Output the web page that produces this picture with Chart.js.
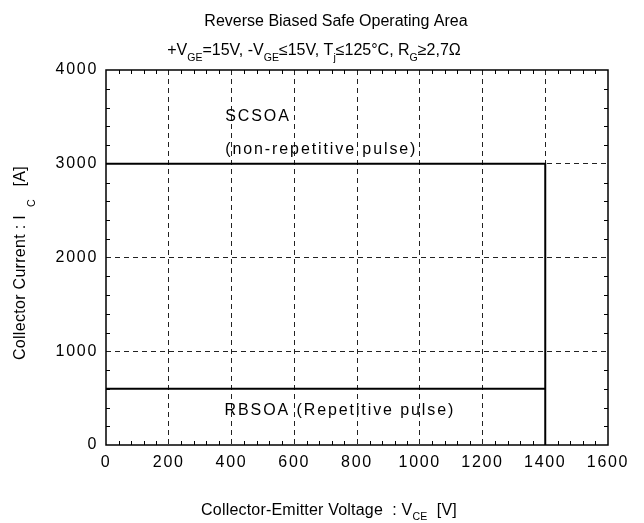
<!DOCTYPE html>
<html>
<head>
<meta charset="utf-8">
<script src="https://cdn.jsdelivr.net/npm/chart.js@4.4.0/dist/chart.umd.min.js"></script>
<style>
  html, body { margin: 0; padding: 0; background: #fff; }
</style>
</head>
<body>
<canvas id="grafico" width="644" height="523"></canvas>
<script>
// eixos
const vceTicks = [0, 200, 400, 600, 800, 1000, 1200, 1400, 1600];
const icTicks = [0, 1000, 2000, 3000, 4000];
const passoMenorV = 40;
const passoMenorI = 200;

// SCSOA (non-repetitive) e RBSOA (repetitive)
const scsoaV = [0, 1400, 1400];
const scsoaI = [3000, 3000, 0];
const rbsoaV = [0, 1400];
const rbsoaI = [600, 600];

// textos dentro do grafico (posicao em valores dos eixos)
const rotulos = ['SCSOA', '(non-repetitive pulse)', 'RBSOA (Repetitive pulse)'];
const rotuloV = [380, 380, 378];
const rotuloI = [3500, 3150, 370];

const FONTE = '"Liberation Sans", Arial, sans-serif';

function pontos(xs, ys) {
    return xs.map((x, i) => ({ x, y: ys[i] }));
}

// escreve texto com subscritos: partes = [[texto, ehSub], ...]
function textoRico(ctx, partes, x, y, tam, esp, desc) {
    ctx.save();
    ctx.letterSpacing = esp + 'px';
    ctx.textBaseline = 'alphabetic';
    ctx.textAlign = 'left';
    ctx.fillStyle = '#000';
    let larg = 0;
    const medidas = partes.map(p => {
        ctx.font = (p[1] ? tam * 0.66 : tam) + 'px ' + FONTE;
        const w = ctx.measureText(p[0]).width;
        larg += w;
        return w;
    });
    let cx = x - larg / 2;
    partes.forEach((p, i) => {
        ctx.font = (p[1] ? tam * 0.66 : tam) + 'px ' + FONTE;
        ctx.fillText(p[0], cx, p[1] ? y + desc : y);
        cx += medidas[i];
    });
    ctx.restore();
}

const molduraPlugin = {
    id: 'moldura',
    beforeDraw(chart) {
        chart.ctx.letterSpacing = '1.7px';
    },
    afterDatasetsDraw(chart) {
        const { ctx, chartArea: a, scales } = chart;
        const sx = scales.x, sy = scales.y;
        ctx.save();
        ctx.letterSpacing = '0px';
        ctx.strokeStyle = '#000';
        ctx.lineWidth = 1.5;
        ctx.strokeRect(a.left, a.top, a.right - a.left, a.bottom - a.top);

        // tracinhos menores nos quatro lados
        ctx.lineWidth = 1;
        ctx.beginPath();
        for (let v = sx.min; v <= sx.max; v += passoMenorV) {
            if (vceTicks.includes(v)) continue;
            const px = Math.round(sx.getPixelForValue(v)) + 0.5;
            ctx.moveTo(px, a.bottom); ctx.lineTo(px, a.bottom - 4);
            ctx.moveTo(px, a.top); ctx.lineTo(px, a.top + 4);
        }
        for (let v = sy.min; v <= sy.max; v += passoMenorI) {
            if (icTicks.includes(v)) continue;
            const py = Math.round(sy.getPixelForValue(v)) + 0.5;
            ctx.moveTo(a.left, py); ctx.lineTo(a.left + 4, py);
            ctx.moveTo(a.right, py); ctx.lineTo(a.right - 4, py);
        }
        ctx.stroke();
        ctx.restore();

        // rotulos das regioes
        ctx.save();
        ctx.fillStyle = '#000';
        ctx.font = '16px ' + FONTE;
        ctx.letterSpacing = '1.9px';
        ctx.textBaseline = 'middle';
        ctx.textAlign = 'left';
        rotulos.forEach((t, i) => {
            ctx.fillText(t, sx.getPixelForValue(rotuloV[i]), sy.getPixelForValue(rotuloI[i]));
        });
        ctx.restore();
    },
    afterDraw(chart) {
        const ctx = chart.ctx;
        textoRico(ctx, [['Reverse Biased Safe Operating Area', false]], 336, 26, 16, 0, 6);
        textoRico(ctx, [
            ['+V', false], ['GE', true], ['=15V, -V', false], ['GE', true],
            ['\u226415V, T', false], ['j', true], ['\u2264125\u00b0C, R', false], ['G', true],
            ['\u22652,7\u03a9', false]
        ], 314, 55, 16, 0, 6);
        textoRico(ctx, [
            ['Collector-Emitter Voltage  : V', false], ['CE', true], ['  [V]', false]
        ], 329, 515, 16, 0.2, 5);
        ctx.save();
        ctx.translate(25, 263);
        ctx.rotate(-Math.PI / 2);
        textoRico(ctx, [
            ['Collector Current : I ', false], [' C ', true], ['  [A]', false]
        ], 0, 0, 16, 0.3, 10);
        ctx.restore();
    }
};

const linhaCor = limites => c =>
    (c.tick && limites.includes(c.tick.value)) ? 'rgba(0,0,0,0)' : '#222';

new Chart(document.getElementById('grafico'), {
    type: 'scatter',
    data: {
        datasets: [
            {
                label: 'SCSOA',
                data: pontos(scsoaV, scsoaI),
                showLine: true,
                borderColor: '#000',
                borderWidth: 2,
                pointRadius: 0,
                tension: 0,
                clip: false
            },
            {
                label: 'RBSOA',
                data: pontos(rbsoaV, rbsoaI),
                showLine: true,
                borderColor: '#000',
                borderWidth: 2,
                pointRadius: 0,
                tension: 0,
                clip: false
            }
        ]
    },
    options: {
        responsive: false,
        animation: false,
        layout: { padding: { top: 70, right: 36, left: 0, bottom: 0 } },
        plugins: {
            legend: { display: false },
            tooltip: { enabled: false }
        },
        scales: {
            x: {
                type: 'linear',
                min: vceTicks[0],
                max: vceTicks[vceTicks.length - 1],
                afterBuildTicks: s => { s.ticks = vceTicks.map(v => ({ value: v })); },
                afterFit: s => { s.height = 78; },
                grid: {
                    color: linhaCor([0, 1600]),
                    lineWidth: 1,
                    drawTicks: false
                },
                border: { display: false, dash: [5, 4] },
                ticks: {
                    color: '#000',
                    padding: 8,
                    maxRotation: 0,
                    font: { family: FONTE, size: 16 },
                    callback: v => String(v)
                }
            },
            y: {
                type: 'linear',
                min: icTicks[0],
                max: icTicks[icTicks.length - 1],
                afterBuildTicks: s => { s.ticks = icTicks.map(v => ({ value: v })); },
                afterFit: s => { s.width = 106; },
                grid: {
                    color: linhaCor([0, 4000]),
                    lineWidth: 1,
                    drawTicks: false
                },
                border: { display: false, dash: [5, 4] },
                ticks: {
                    color: '#000',
                    padding: 8,
                    font: { family: FONTE, size: 16 },
                    callback: v => String(v)
                }
            }
        }
    },
    plugins: [molduraPlugin]
});
</script>
</body>
</html>
